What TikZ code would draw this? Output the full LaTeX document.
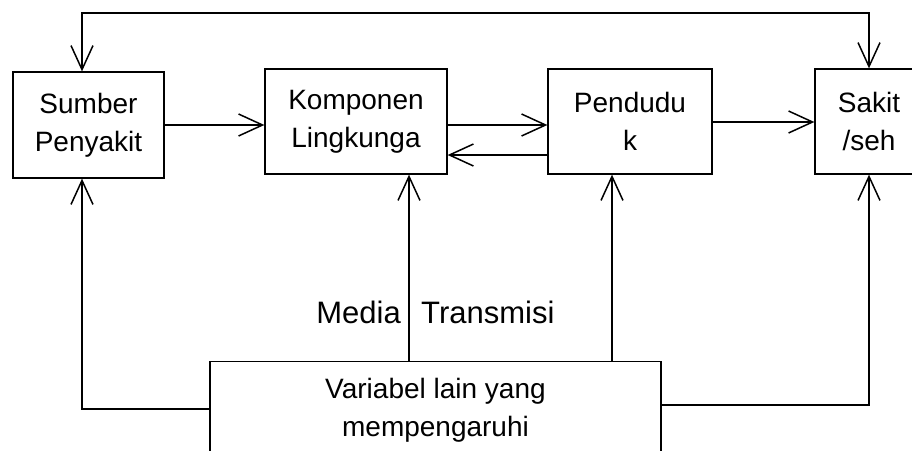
\documentclass[tikz,border=0pt]{standalone}
\usepackage{fontspec}
\setmainfont{Liberation Sans}
\usetikzlibrary{arrows.meta}
\tikzset{
  barb/.tip={Straight Barb[length=24pt,width=22pt,line width=1.5pt]},
  box/.style={draw, line width=1.3pt, align=center, inner sep=0pt,
    font=\fontsize{28}{38}\selectfont},
  link/.style={draw, line width=1.5pt, -barb},
  twoway/.style={draw, line width=1.5pt, barb-barb},
  caption/.style={inner sep=0pt, font=\fontsize{31}{36}\selectfont},
}
\begin{document}
\begin{tikzpicture}[x=1pt,y=-1pt]
\useasboundingbox (0,0) rectangle (912,450);
\clip (0,0) rectangle (912,450);

% blocks
\node[box, minimum width=151pt, minimum height=106pt] (sumber) at (88.5,125) {Sumber\\Penyakit};
\node[box, minimum width=182pt, minimum height=105pt] (komp) at (356,121.5) {Komponen\\Lingkunga};
\node[box, minimum width=164pt, minimum height=105pt] (pend) at (630,121.5) {Pendudu\\k};
\node[box, minimum width=108pt, minimum height=105pt] (sakit) at (869,121.5) {Sakit\\/seh};
\node[box, minimum width=451pt, minimum height=98pt, anchor=north] (var) at (435.5,361) {Variabel lain yang\\mempengaruhi};

% label of the transmission links
\node[caption, anchor=base east] (media) at (401,323) {Media};
\node[caption, anchor=base west] (trans) at (421,323) {Transmisi};

% guide coordinates for the routed connectors
\coordinate (xa) at (82,13);
\coordinate (xd) at (869,13);
\coordinate (xb) at (409,0);
\coordinate (xc) at (612,0);
\coordinate (ylo) at (0,409);
\coordinate (yro) at (0,405);
\coordinate (yback) at (0,155);
\coordinate (yfwd) at (0,122);

% feedback along the top
\draw[twoway] (sumber.north -| xa) -- (xa) -- (xd) -- (sakit.north -| xd);

% main chain
\draw[link] (sumber.east) -- (komp.west |- sumber.east);
\draw[link] (komp.east |- sumber.east) -- (pend.west |- sumber.east);
\draw[link] (pend.west |- yback) -- (komp.east |- yback);
\draw[link] (pend.east |- yfwd) -- (sakit.west |- yfwd);

% influences from the bottom block
\draw[link] (var.west |- ylo) -| (sumber.south -| xa);
\draw[link] (var.north -| xb) -- (komp.south -| xb);
\draw[link] (var.north -| xc) -- (pend.south -| xc);
\draw[link] (var.east |- yro) -| (sakit.south -| xd);
\end{tikzpicture}
\end{document}
